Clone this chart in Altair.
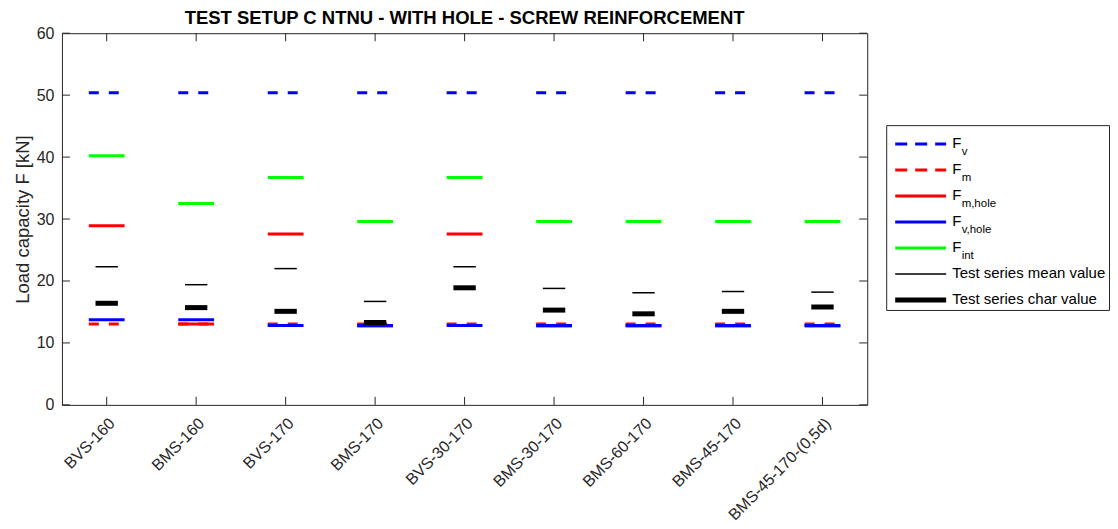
import altair as alt
import pandas as pd

# ---------------- data ----------------
categories = ["BVS-160", "BMS-160", "BVS-170", "BMS-170", "BVS-30-170",
              "BMS-30-170", "BMS-60-170", "BMS-45-170", "BMS-45-170-(0,5d)"]
f_v = [50.4, 50.4, 50.4, 50.4, 50.4, 50.4, 50.4, 50.4, 50.4]
f_m = [13.05, 13.05, 13.05, 13.05, 13.05, 13.05, 13.05, 13.05, 13.05]
f_m_hole = [28.9, 13.05, 27.6, 12.75, 27.6, 12.75, 12.75, 12.75, 12.75]
f_v_hole = [13.75, 13.75, 12.8, 12.8, 12.8, 12.8, 12.8, 12.8, 12.8]
f_int = [40.2, 32.5, 36.7, 29.6, 36.7, 29.6, 29.6, 29.6, 29.6]
mean_vals = [22.3, 19.4, 22.0, 16.7, 22.3, 18.8, 18.1, 18.3, 18.2]
char_vals = [16.4, 15.7, 15.1, 13.3, 18.9, 15.3, 14.7, 15.1, 15.8]

series_names = ["F_v", "F_m", "F_m,hole", "F_v,hole", "F_int",
                "Test series mean value", "Test series char value"]
legend_main = ["F", "F", "F", "F", "F",
               "Test series mean value", "Test series char value"]
legend_sub = ["v", "m", "m,hole", "v,hole", "int", "", ""]
y_ticks = [0, 10, 20, 30, 40, 50, 60]

# ---------------- styles ----------------
colors = ["#0000FF", "#FF0000", "#FF0000", "#0000FF", "#00FF00", "#000000", "#000000"]
dashes = [[10, 10], [10, 10], None, None, None, None, None]
leg_dashes = [[12, 8], [12, 8], None, None, None, None, None]
widths = [3, 3, 3, 3, 3, 1.5, 5]
bands = [(0.3, 0.7)] * 5 + [(0.375, 0.625)] * 2
FONT = "Liberation Sans"
AX = "#262626"
W, H = 806, 372
TL = 8  # inward tick length

all_vals = [f_v, f_m, f_m_hole, f_v_hole, f_int, mean_vals, char_vals]

xscale = alt.Scale(domain=categories, paddingInner=0, paddingOuter=0)
yscale = alt.Scale(domain=[0, 60], nice=False, zero=False)
xaxis = alt.Axis(title=None, labelAngle=-45, labelFont=FONT, labelFontSize=16,
                 labelColor=AX, labelPadding=10, domain=False, ticks=False,
                 tickSize=0, grid=False)
yaxis = alt.Axis(title="Load capacity F [kN]", values=y_ticks, labelFont=FONT,
                 labelFontSize=16, labelColor=AX, labelPadding=8,
                 titleFont=FONT, titleFontSize=18.5, titleFontWeight="normal",
                 titleColor=AX, titlePadding=4, domain=False, ticks=False,
                 tickSize=0, grid=False)


def mark_style(i, dash_list):
    kw = dict(color=colors[i], strokeWidth=widths[i], strokeCap="butt")
    if dash_list[i] is not None:
        kw["strokeDash"] = dash_list[i]
    return kw


layers = []
yt = pd.DataFrame({"v": y_ticks})
xt = pd.DataFrame({"category": categories})
layers.append(alt.Chart(yt).mark_rule(color=AX, strokeWidth=1).encode(
    y=alt.Y("v:Q", scale=yscale, axis=yaxis), x=alt.value(0), x2=alt.value(TL)))
layers.append(alt.Chart(yt).mark_rule(color=AX, strokeWidth=1).encode(
    y=alt.Y("v:Q", scale=yscale, axis=yaxis), x=alt.value(W - TL), x2=alt.value(W)))
layers.append(alt.Chart(xt).mark_rule(color=AX, strokeWidth=1).encode(
    x=alt.X("category:N", scale=xscale, axis=xaxis, sort=categories),
    y=alt.value(H - TL), y2=alt.value(H)))
layers.append(alt.Chart(xt).mark_rule(color=AX, strokeWidth=1).encode(
    x=alt.X("category:N", scale=xscale, axis=xaxis, sort=categories),
    y=alt.value(0), y2=alt.value(TL)))

for i, (name, vals) in enumerate(zip(series_names, all_vals)):
    d = pd.DataFrame({"category": categories, "value": vals})
    b0, b1 = bands[i]
    layers.append(
        alt.Chart(d).mark_rule(**mark_style(i, dashes)).encode(
            x=alt.X("category:N", bandPosition=b0, scale=xscale, axis=xaxis, sort=categories),
            x2=alt.X2("category", bandPosition=b1),
            y=alt.Y("value:Q", scale=yscale, axis=yaxis),
        )
    )

main = alt.layer(*layers).properties(
    width=W, height=H,
    title=alt.TitleParams(
        text="TEST SETUP C NTNU - WITH HOLE - SCREW REINFORCEMENT",
        font=FONT, fontSize=18.5, fontWeight="bold", color="#000000",
        anchor="middle", frame="group", offset=-2.5),
)

# ---------------- legend ----------------
LW, LH = 223, 185
leg_df = pd.DataFrame({"series": series_names, "main": legend_main, "sub": legend_sub})
leg_y = alt.Y("series:N", sort=series_names, axis=None,
              scale=alt.Scale(type="point", padding=0, range=[19, 175]))
leg_layers = []
for i, name in enumerate(series_names):
    leg_layers.append(
        alt.Chart(leg_df).transform_filter(alt.datum.series == name)
        .mark_rule(**mark_style(i, leg_dashes))
        .encode(x=alt.value(9), x2=alt.value(60), y=leg_y)
    )
leg_layers.append(alt.Chart(leg_df).mark_text(
    align="left", baseline="alphabetic", font=FONT, fontSize=15, color="#000000", dy=4
).encode(x=alt.value(66), y=leg_y, text="main:N"))
leg_layers.append(alt.Chart(leg_df).mark_text(
    align="left", baseline="alphabetic", font=FONT, fontSize=11.5, color="#000000", dy=11
).encode(x=alt.value(75.5), y=leg_y, text="sub:N"))
legend = alt.layer(*leg_layers).properties(width=LW, height=LH)

spacer = alt.Chart(leg_df).mark_point(opacity=0).encode(
    x=alt.value(0), y=alt.value(0)
).properties(width=LW, height=91, view=alt.ViewBackground(strokeOpacity=0))

chart = alt.hconcat(main, alt.vconcat(spacer, legend, spacing=0), spacing=15).properties(
    padding={"left": 4, "top": 0, "right": 0, "bottom": 0}, background="white"
).configure_view(stroke=AX, strokeWidth=1)

chart.save("out.html", embed_options={"renderer": "svg", "actions": False})
